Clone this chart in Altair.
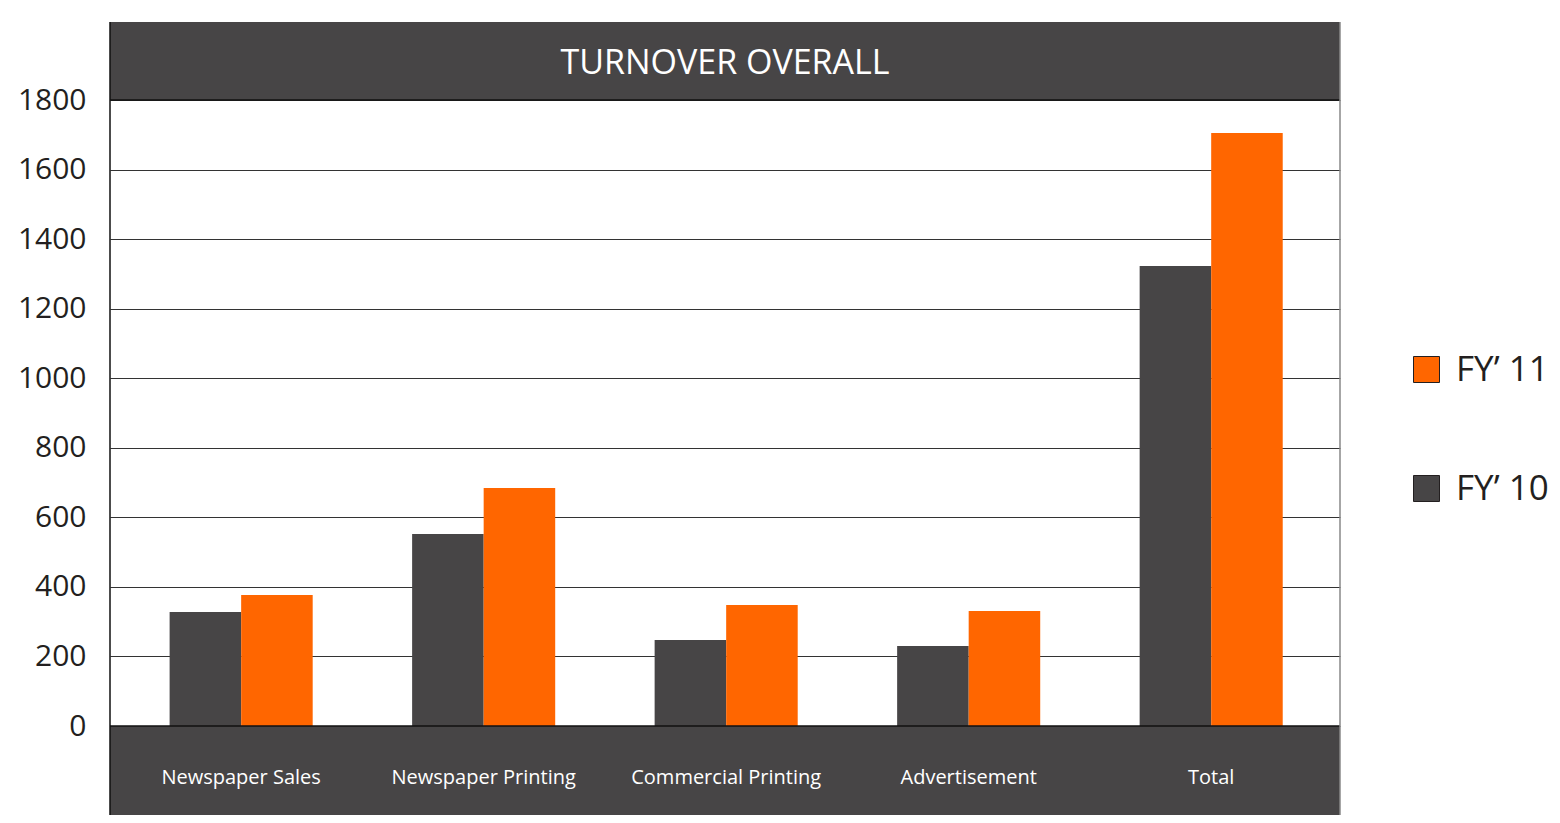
import altair as alt
import pandas as pd

categories = ["Newspaper Sales", "Newspaper Printing", "Commercial Printing", "Advertisement", "Total"]
fy10 = [328, 552, 247, 230, 1323]
fy11 = [377, 684, 348, 331, 1705]
series = ["FY\u2019 10", "FY\u2019 11"]
legend_order = ["FY\u2019 11", "FY\u2019 10"]
y_ticks = [0, 200, 400, 600, 800, 1000, 1200, 1400, 1600, 1800]
title_text = "TURNOVER OVERALL"

DARK = "#474546"
ORANGE = "#FF6600"
FONT = "Open Sans"
W, H = 1230, 626

rows = []
for c, a, b in zip(categories, fy10, fy11):
    rows.append({"category": c, "series": series[0], "value": a})
    rows.append({"category": c, "series": series[1], "value": b})
df = pd.DataFrame(rows)
cat_df = pd.DataFrame({"category": categories})
one = pd.DataFrame({"t": [title_text]})

xscale = alt.Scale(domain=categories, paddingInner=0.41, paddingOuter=0.241, align=0.51)

header = alt.Chart(one).mark_rect(color=DARK).encode(
    x=alt.value(0), x2=alt.value(W), y=alt.value(-78), y2=alt.value(0)
)
title = alt.Chart(one).mark_text(color="white", fontSize=34, font=FONT, align="center", baseline="middle").encode(
    x=alt.value(W / 2), y=alt.value(-36), text="t:N"
)
footer = alt.Chart(one).mark_rect(color=DARK).encode(
    x=alt.value(0), x2=alt.value(W), y=alt.value(H), y2=alt.value(H + 110)
)

bars = alt.Chart(df).mark_bar(strokeWidth=0).encode(
    x=alt.X("category:N", scale=xscale, axis=None, sort=categories),
    xOffset=alt.XOffset("series:N", sort=series, scale=alt.Scale(paddingInner=0, paddingOuter=0)),
    y=alt.Y("value:Q", scale=alt.Scale(domain=[0, 1800], nice=False),
            axis=alt.Axis(values=y_ticks, format="d", title=None, grid=True, gridColor="#333333", gridWidth=1,
                          domain=False, ticks=False, labelFontSize=30, labelFont=FONT,
                          labelColor="#231f20", labelPadding=24)),
    color=alt.Color("series:N", scale=alt.Scale(domain=legend_order, range=[ORANGE, DARK]),
                    legend=alt.Legend(title=None, orient="none", legendX=W + 69, legendY=252,
                                      symbolType="square", symbolSize=676, symbolStrokeColor="#231f20",
                                      symbolStrokeWidth=1, symbolOpacity=1, labelFontSize=35, labelFont=FONT,
                                      labelColor="#231f20", labelOffset=12, rowPadding=83,
                                      labelLimit=300)),
)

labels = alt.Chart(cat_df).mark_text(color="white", fontSize=20, font=FONT, baseline="middle").encode(
    x=alt.X("category:N", scale=xscale, axis=None, sort=categories),
    y=alt.value(H + 52),
    text="category:N",
)

top_line = alt.Chart(one).mark_rule(color="#111111", strokeWidth=1.5).encode(
    x=alt.value(0), x2=alt.value(W), y=alt.value(0)
)
bottom_line = alt.Chart(one).mark_rule(color="#111111", strokeWidth=1.5).encode(
    x=alt.value(0), x2=alt.value(W), y=alt.value(H)
)
left_line = alt.Chart(one).mark_rule(color="#111111", strokeWidth=1.5).encode(
    x=alt.value(0), y=alt.value(-78), y2=alt.value(H + 110)
)
right_line = alt.Chart(one).mark_rule(color="#888888", strokeWidth=1.5).encode(
    x=alt.value(W), y=alt.value(-78), y2=alt.value(H + 110)
)

chart = alt.layer(header, title, footer, bars, labels, top_line, bottom_line, left_line, right_line).resolve_scale(
    x="shared"
).properties(
    width=W, height=H,
    autosize=alt.AutoSizeParams(type="none"),
    padding={"left": 102, "top": 92, "right": 212, "bottom": 89},
    background="white",
).configure_view(stroke=None)

chart.save("out.html", embed_options={"renderer": "svg", "actions": False})
